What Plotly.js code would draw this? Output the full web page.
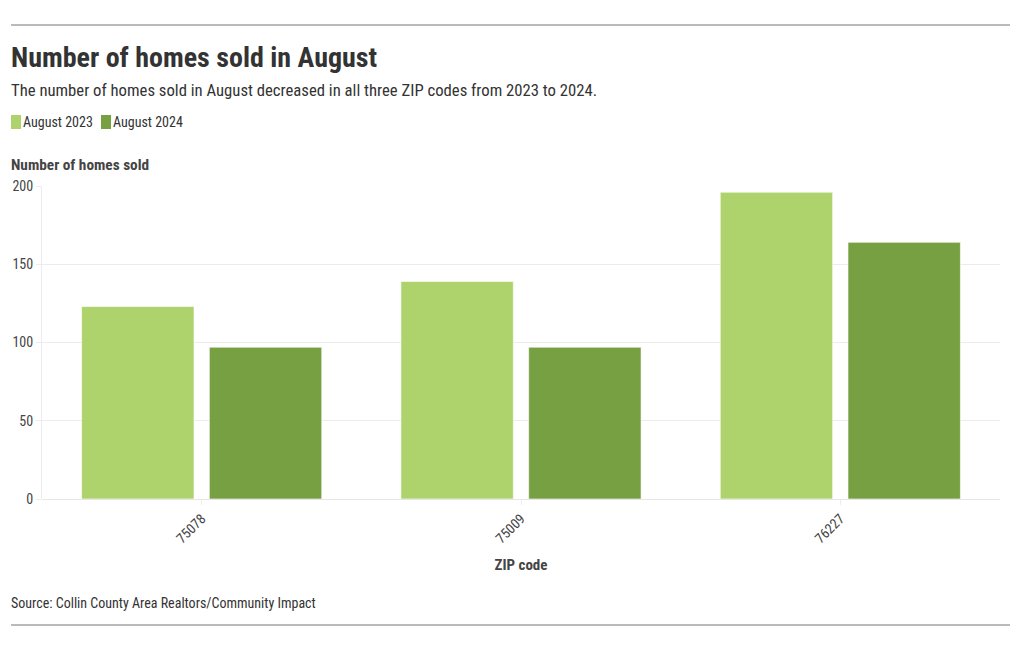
<!DOCTYPE html>
<html>
<head>
<meta charset="utf-8">
<script src="https://cdn.plot.ly/plotly-3.0.1.min.js"></script>
<style>
html,body{margin:0;padding:0;background:#fff;}
#chart{width:1020px;height:650px;}
</style>
</head>
<body>
<div id="chart"></div>
<script>
const zipCodes = ["75078", "75009", "76227"];
const seriesNames = ["August 2023", "August 2024"];
const aug2023 = [123, 139, 196];
const aug2024 = [97, 97, 164];
const colors = ["#aed36c", "#77a042"];
const yTicks = [0, 50, 100, 150, 200];

const FONT = '"Roboto Condensed", "Liberation Sans Narrow", "DejaVu Sans Condensed", Roboto, sans-serif';

const W = 1020, H = 650, ML = 42, MR = 20, MT = 186, MB = 151;
const PW = W - ML - MR, PH = H - MT - MB;
const px = x => (x - ML) / PW;
const py = y => (H - MB - y) / PH;

const traces = [aug2023, aug2024].map((vals, i) => ({
  type: "bar",
  name: seriesNames[i],
  x: zipCodes,
  y: vals,
  marker: {color: colors[i], line: {color: "rgba(255,255,255,0.6)", width: 1}},
  hoverinfo: "x+y+name"
}));

const legendShapes = [];
const legendAnn = [];
const legendX = [11, 101];
seriesNames.forEach((name, i) => {
  legendShapes.push({type: "rect", xref: "paper", yref: "paper",
    x0: px(legendX[i]), x1: px(legendX[i] + 10), y0: py(129), y1: py(115),
    fillcolor: colors[i], line: {width: 0}});
  legendAnn.push({text: name, xref: "paper", yref: "paper", x: px(legendX[i] + 10), y: py(122),
    xanchor: "left", yanchor: "middle", showarrow: false, font: {size: 14, color: "#333"}});
});

const TX = 9;
const layout = {
  width: W, height: H,
  paper_bgcolor: "#fff", plot_bgcolor: "#fff",
  font: {family: FONT, color: "#333", size: 14},
  margin: {l: ML, r: MR, t: MT, b: MB},
  barmode: "group",
  bargap: 0.2,
  bargroupgap: 0.12,
  showlegend: false,
  xaxis: {
    type: "category",
    tickangle: -45,
    tickfont: {size: 14, color: "#444"},
    showgrid: false,
    showline: false,
    zeroline: false,
    ticks: "outside", ticklen: 5, tickcolor: "#eee",
    title: {text: "<b>ZIP code</b>", font: {size: 15, color: "#444"}, standoff: 14}
  },
  yaxis: {
    range: [0, 200],
    tickvals: yTicks,
    ticktext: yTicks.map(String),
    tickfont: {size: 14, color: "#444"},
    gridcolor: "#ececec",
    showline: true, linecolor: "#ececec", linewidth: 1,
    zeroline: true, zerolinecolor: "#e6e6e6",
    ticks: "outside", ticklen: 5, tickcolor: "#ececec",
    fixedrange: true
  },
  shapes: [
    {type: "line", xref: "paper", yref: "paper", x0: px(11), x1: px(1010), y0: py(25), y1: py(25), line: {color: "#777", width: 1}},
    {type: "line", xref: "paper", yref: "paper", x0: px(11), x1: px(1010), y0: py(625), y1: py(625), line: {color: "#777", width: 1}}
  ].concat(legendShapes),
  annotations: [
    {text: "<b>Number of homes sold in August</b>", xref: "paper", yref: "paper", x: px(TX), y: py(57),
      xanchor: "left", yanchor: "middle", showarrow: false, font: {size: 28, color: "#333"}},
    {text: "The number of homes sold in August decreased in all three ZIP codes from 2023 to 2024.", xref: "paper", yref: "paper",
      x: px(TX), y: py(90), xanchor: "left", yanchor: "middle", showarrow: false, font: {size: 16.7, color: "#333"}},
    {text: "<b>Number of homes sold</b>", xref: "paper", yref: "paper", x: px(TX), y: py(165),
      xanchor: "left", yanchor: "middle", showarrow: false, font: {size: 15.3, color: "#444"}},
    {text: "Source: Collin County Area Realtors/Community Impact", xref: "paper", yref: "paper", x: px(TX), y: py(603),
      xanchor: "left", yanchor: "middle", showarrow: false, font: {size: 14, color: "#333"}}
  ].concat(legendAnn)
};

Plotly.newPlot("chart", traces, layout, {displayModeBar: false});
</script>
</body>
</html>
